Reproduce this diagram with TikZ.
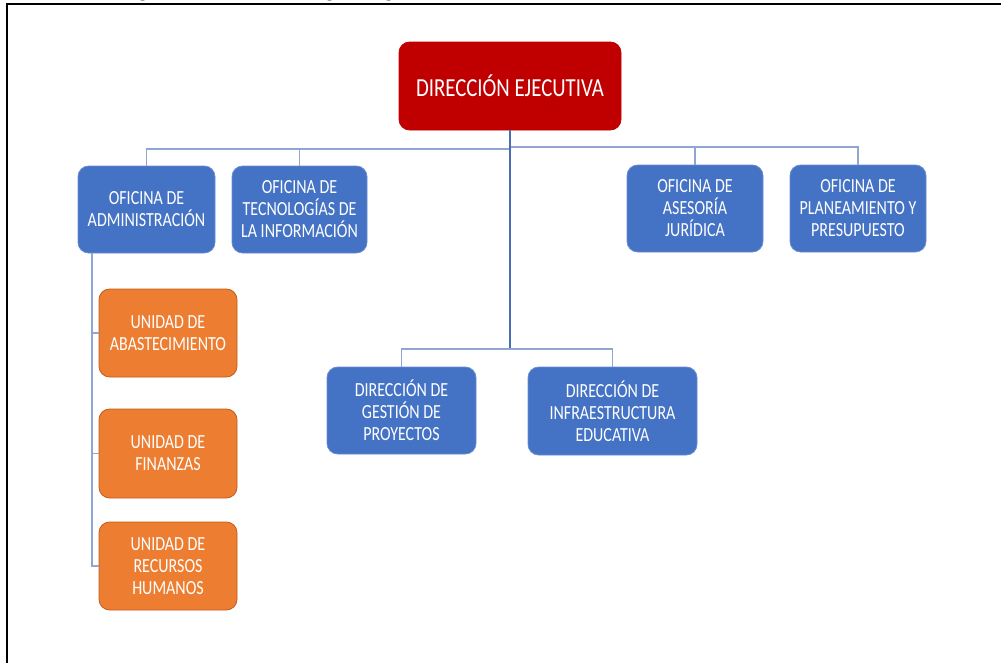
\documentclass[tikz,border=0pt]{standalone}
\usepackage{fontspec}
\setmainfont{Carlito}[FakeStretch=0.8]
\begin{document}
\begin{tikzpicture}[x=0.75pt,y=-0.75pt]
\definecolor{boxblue}{HTML}{4472C4}
\definecolor{boxorange}{HTML}{ED7D31}
\definecolor{orangeedge}{HTML}{C65B16}
\definecolor{boxred}{HTML}{C00000}
\definecolor{trunkblue}{HTML}{4A6DB3}
\definecolor{branchblue}{HTML}{8FA5D2}
\definecolor{titleblue}{HTML}{1F3864}
\tikzset{
  wh/.style 2 args={minimum width=#1*0.75pt, minimum height=#2*0.75pt},
  unit/.style={rounded corners=8pt, inner sep=0pt, align=center, text=white,
    font=\fontsize{15}{16.5}\selectfont},
  bluebox/.style={unit, fill=boxblue, draw=boxblue!80!white, line width=0.6pt},
  orangebox/.style={unit, fill=boxorange, draw=orangeedge, line width=0.6pt},
  redbox/.style={unit, fill=boxred, draw=boxred, line width=0.6pt,
    font=\fontsize{19.5}{21}\selectfont},
  trunk/.style={draw=trunkblue, line width=0.9pt},
  branch/.style={draw=branchblue, line width=0.9pt},
  frame/.style={draw=black, line width=1.6pt},
  cuttitle/.style={anchor=base, text=titleblue, inner sep=0pt,
    font=\bfseries\fontsize{20}{20}\selectfont},
}
\useasboundingbox (0,0) rectangle (1001,662);
\fill[white] (0,0) rectangle (1001,662);
\begin{scope}
\clip (0,0) rectangle (1001,662);
% cut-off title fragments at the top edge
\node[cuttitle] (t1) at (143,-3.3) {g};
\node[cuttitle] (t2) at (330,-3.3) {g};
\node[cuttitle] (t3) at (389,-3.3) {g};
% frame
\draw[frame] (1010,4) -- (7,4) -- (7,670);
\end{scope}

% nodes
\node[redbox, wh={222}{88}] (de) at (510,86) {DIRECCIÓN EJECUTIVA};
\node[bluebox, wh={137}{87}] (adm) at (146.5,209.5) {OFICINA DE\\ADMINISTRACIÓN};
\node[bluebox, wh={135}{87}] (tec) at (299.5,209.5) {OFICINA DE\\TECNOLOGÍAS DE\\LA INFORMACIÓN};
\node[bluebox, wh={136}{87}] (ase) at (695,208.5) {OFICINA DE\\ASESORÍA\\JURÍDICA};
\node[bluebox, wh={136}{87}] (pla) at (858,208.5) {OFICINA DE\\PLANEAMIENTO Y\\PRESUPUESTO};
\node[orangebox, wh={138}{88}] (ab) at (168,333) {UNIDAD DE\\ABASTECIMIENTO};
\node[orangebox, wh={138}{89}] (fin) at (168,453.5) {UNIDAD DE\\FINANZAS};
\node[orangebox, wh={138}{88}] (rh) at (168,566) {UNIDAD DE\\RECURSOS\\HUMANOS};
\node[bluebox, wh={149}{87}] (ges) at (401.5,410.5) {DIRECCIÓN DE\\GESTIÓN DE\\PROYECTOS};
\node[bluebox, wh={169}{88}] (inf) at (612.5,411) {DIRECCIÓN DE\\INFRAESTRUCTURA\\EDUCATIVA};

% junctions
\coordinate (jl) at (510,149);
\coordinate (jr) at (510,147);
\coordinate (jb) at (510,349);
\coordinate (a0) at (92,253);

% connectors
\draw[branch] (adm.north) |- (jl);
\draw[branch] (tec.north) |- (jl);
\draw[branch] (ase.north) |- (jr);
\draw[branch] (pla.north) |- (jr);
\draw[trunk] (de.south) -- (jb);
\draw[branch] (ges.north) |- (jb);
\draw[branch] (inf.north) |- (jb);
\draw[branch] (a0) |- (rh.west);
\draw[branch] (a0 |- ab.west) -- (ab.west);
\draw[branch] (a0 |- fin.west) -- (fin.west);
\end{tikzpicture}
\end{document}
